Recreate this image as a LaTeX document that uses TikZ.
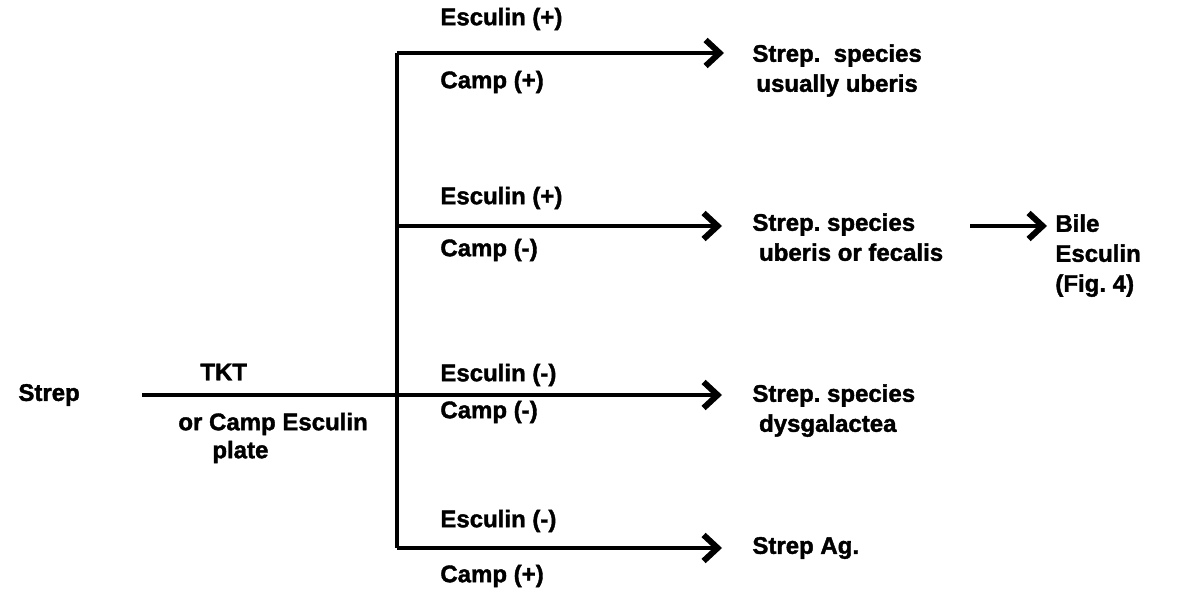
\documentclass[tikz,border=0pt]{standalone}
\usepackage{fontspec}
\setmainfont{Liberation Sans}[BoldFeatures={FakeBold=1.6}]
\frenchspacing
\usetikzlibrary{arrows.meta}

\tikzset{
  flow/.style={line width=1.6pt},
  branch/.style={flow, -{Straight Barb[length=7pt,width=13pt,line width=3pt]}},
  lbl/.style={font=\bfseries\fontsize{12}{15}\selectfont, inner sep=0pt, anchor=west},
  result/.style={lbl, anchor=north west, align=left},
}

\begin{document}
\begin{tikzpicture}[x=0.5pt,y=-0.5pt]

\useasboundingbox (0,0) rectangle (1204,592);

% start and the split point on the plate line
\path (18,395) node[lbl] (strep) {Strep};
\path (142,395) coordinate(S);
\path (397,395) coordinate(X);
\path (397,53) coordinate(T1);
\path (397,226) coordinate(T2);
\path (397,548) coordinate(T4);

% arrow ends
\path (724,53) coordinate(A1);
\path (722,226) coordinate(A2);
\path (722,395) coordinate(A3);
\path (722,548) coordinate(A4);
\path (970,226) coordinate(B);
\path (1047,226) coordinate(BE);

% results
\path (752,44) node[result, align=center] (r1) {Strep.\ \ species\\usually uberis};
\path (752,213) node[result] (r2) {Strep. species\\\ uberis or fecalis};
\path (752,384) node[result] (r3) {Strep. species\\\ dysgalactea};
\path (752,548) node[lbl] (r4) {Strep Ag.};
\path (1055,214) node[result] (bile) {Bile\\Esculin\\(Fig. 4)};

% lines
\draw [flow] (S)--(X);
\draw [flow] (T1)--(T4);
\draw [branch] (T1)--(A1);
\draw [branch] (T2)--(A2);
\draw [branch] (X)--(A3);
\draw [branch] (T4)--(A4);
\draw [branch] (B)--(BE);

% test labels
\path (200,372) node[lbl] (tkt) {TKT};
\path (178,424) node[lbl] (plate) {or Camp Esculin};
\path (212,452) node[lbl] {plate};

\path (440,19) node[lbl] {Esculin (+)};
\path (440,82) node[lbl] {Camp (+)};
\path (440,198) node[lbl] {Esculin (+)};
\path (440,250) node[lbl] {Camp (-)};
\path (440,375) node[lbl] {Esculin (-)};
\path (440,412) node[lbl] {Camp (-)};
\path (440,521) node[lbl] {Esculin (-)};
\path (440,576) node[lbl] {Camp (+)};

\end{tikzpicture}
\end{document}
